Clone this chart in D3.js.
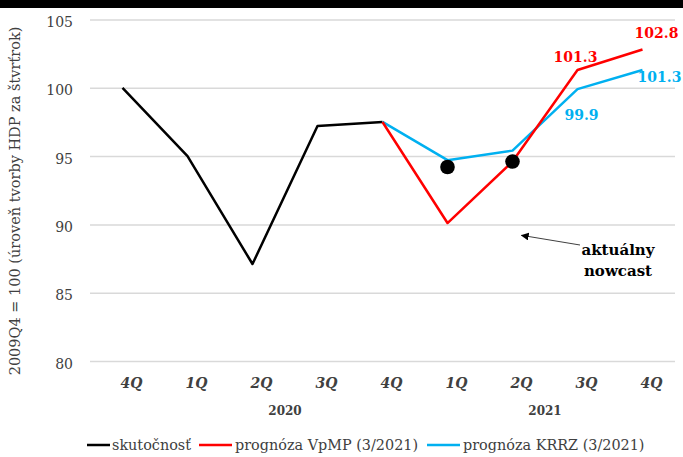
<!DOCTYPE html>
<html>
<head>
<meta charset="utf-8">
<script src="https://cdn.jsdelivr.net/npm/d3@7"></script>
<style>
  body { margin: 0; background: #fff; }
  svg { display: block; font-family: "DejaVu Serif", "Liberation Serif", serif; }
</style>
</head>
<body>
<script>
// categories (quarters) and the year groups under them
const quarters = ['4Q', '1Q', '2Q', '3Q', '4Q', '1Q', '2Q', '3Q', '4Q'];
const yearLabels = ['2020', '2021'];
const yearSpans = [[1, 4], [5, 8]];   // first / last quarter index of each year

// series values, null where the series has no point
const actual = [100, 95.0, 87.1, 97.2, 97.5, null, null, null, null];
const vpmp   = [null, null, null, null, 97.5, 90.1, 94.6, 101.3, 102.8];
const krrz   = [null, null, null, null, 97.5, 94.7, 95.4, 99.9, 101.3];
const nowcast = [null, null, null, null, null, 94.2, 94.6, null, null];

const yTicks = [80, 85, 90, 95, 100, 105];

const width = 683, height = 457;
const plotLeft = 90, plotRight = 675, plotTop = 19.5, plotBottom = 361;

const svg = d3.select('body').append('svg')
  .attr('width', width)
  .attr('height', height);

// black strip at the very top (title cut off)
svg.append('rect').attr('x', 0).attr('y', 0).attr('width', width).attr('height', 8).attr('fill', '#000');

const xScale = d3.scaleBand()
  .domain(d3.range(quarters.length))
  .range([plotLeft, plotRight])
  .padding(0);

const yScale = d3.scaleLinear()
  .domain([80, 105])
  .range([plotBottom, plotTop]);

const cx = i => xScale(i) + xScale.bandwidth() / 2;

// gridlines + y labels via axis
const yAxis = svg.append('g')
  .attr('transform', `translate(${plotLeft},0)`)
  .call(d3.axisLeft(yScale).tickValues(yTicks).tickSize(-(plotRight - plotLeft)).tickPadding(17));
yAxis.attr('font-family', null).attr('font-size', null);
yAxis.select('.domain').remove();
yAxis.selectAll('.tick line').attr('stroke', '#d9d9d9').attr('stroke-width', 1.5);
yAxis.selectAll('.tick text')
  .attr('fill', '#404040')
  .attr('dy', '0.5em')
  .style('font-size', '14px');

// y axis title
svg.append('text')
  .attr('text-anchor', 'middle')
  .attr('transform', 'translate(20,201) rotate(-90)')
  .attr('fill', '#404040')
  .style('font-size', '14.5px')
  .text('2009Q4 = 100 (úroveň tvorby HDP za štvrťrok)');

// quarter labels
svg.append('g').selectAll('text')
  .data(quarters)
  .join('text')
  .attr('x', (d, i) => cx(i) + 9)
  .attr('y', 388)
  .attr('text-anchor', 'middle')
  .attr('fill', '#404040')
  .style('font-size', '14px')
  .style('font-weight', 'bold')
  .style('font-style', 'italic')
  .text(d => d);

// year labels
svg.append('g').selectAll('text')
  .data(yearLabels)
  .join('text')
  .attr('x', (d, i) => (cx(yearSpans[i][0]) + cx(yearSpans[i][1])) / 2)
  .attr('y', 415)
  .attr('text-anchor', 'middle')
  .attr('fill', '#404040')
  .style('font-size', '12px')
  .style('font-weight', 'bold')
  .text(d => d);

const line = d3.line()
  .defined(d => d != null)
  .x((d, i) => cx(i))
  .y(d => yScale(d));

const series = [
  { name: 'skutočnosť', values: actual, color: '#000000' },
  { name: 'prognóza VpMP (3/2021)', values: vpmp, color: '#ff0000' },
  { name: 'prognóza KRRZ (3/2021)', values: krrz, color: '#00b0f0' }
];

// blue first so red sits on top near 2Q
[series[0], series[2], series[1]].forEach(s => {
  svg.append('path')
    .datum(s.values)
    .attr('fill', 'none')
    .attr('stroke', s.color)
    .attr('stroke-width', 2.5)
    .attr('stroke-linejoin', 'round')
    .attr('d', line);
});

// nowcast dots
svg.append('g').selectAll('circle')
  .data(nowcast.map((v, i) => ({ v, i })).filter(d => d.v != null))
  .join('circle')
  .attr('cx', d => cx(d.i))
  .attr('cy', d => yScale(d.v))
  .attr('r', 7.3)
  .attr('fill', '#000');

// value labels on the last forecast points
const valueLabels = [
  { values: vpmp, i: 7, color: '#ff0000', dx: -2, dy: -8 },
  { values: vpmp, i: 8, color: '#ff0000', dx: 14, dy: -12 },
  { values: krrz, i: 7, color: '#00b0f0', dx: 4, dy: 31 },
  { values: krrz, i: 8, color: '#00b0f0', dx: 17, dy: 12 }
];
svg.append('g').selectAll('text')
  .data(valueLabels)
  .join('text')
  .attr('x', d => cx(d.i) + d.dx)
  .attr('y', d => yScale(d.values[d.i]) + d.dy)
  .attr('text-anchor', 'middle')
  .attr('fill', d => d.color)
  .style('font-size', '14px')
  .style('font-weight', 'bold')
  .text(d => d.values[d.i].toFixed(1));

// annotation
svg.append('defs').append('marker')
  .attr('id', 'arrow')
  .attr('viewBox', '0 0 10 10')
  .attr('refX', 9).attr('refY', 5)
  .attr('markerWidth', 8).attr('markerHeight', 8)
  .attr('orient', 'auto')
  .append('path')
  .attr('d', 'M0,0 L10,5 L0,10 z')
  .attr('fill', '#000');

svg.append('line')
  .attr('x1', 580).attr('y1', 245)
  .attr('x2', cx(6) + 9).attr('y2', yScale(89.2))
  .attr('stroke', '#404040')
  .attr('stroke-width', 1)
  .attr('marker-end', 'url(#arrow)');

svg.append('text')
  .attr('text-anchor', 'middle')
  .attr('fill', '#000')
  .style('font-size', '15px')
  .style('font-weight', 'bold')
  .selectAll('tspan')
  .data(['aktuálny', 'nowcast'])
  .join('tspan')
  .attr('x', 618)
  .attr('y', (d, i) => 255 + i * 21)
  .text(d => d);

// legend
const legendX = [87, 199, 427];
const legend = svg.append('g').selectAll('g')
  .data(series)
  .join('g')
  .attr('transform', (d, i) => `translate(${legendX[i]},445)`);
legend.append('line')
  .attr('x1', 0).attr('x2', d => d === series[0] ? 23 : 33)
  .attr('stroke', d => d.color)
  .attr('stroke-width', 2.5);
legend.append('text')
  .attr('x', d => d === series[0] ? 25 : 36)
  .attr('y', 5)
  .attr('fill', '#404040')
  .style('font-size', '14.4px')
  .text(d => d.name);
</script>
</body>
</html>
